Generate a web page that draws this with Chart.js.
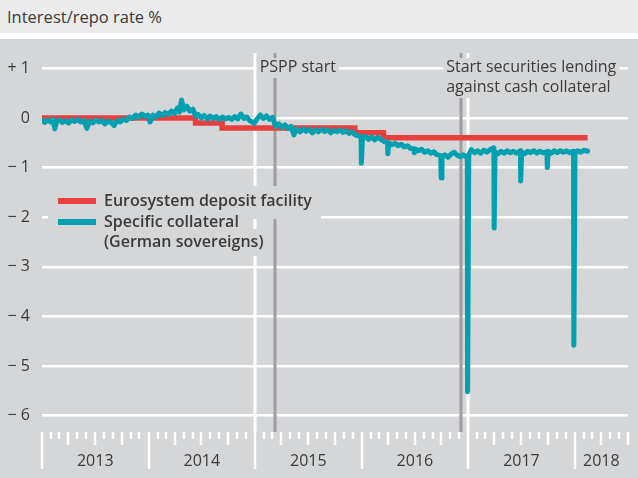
<!DOCTYPE html>
<html>
<head>
<meta charset="utf-8">
<script src="https://cdn.jsdelivr.net/npm/chart.js@4.4.1/dist/chart.umd.min.js"></script>
<style>
  html, body { margin: 0; padding: 0; background: #fff; }
  body { width: 638px; height: 478px; overflow: hidden; font-family: 'Open Sans', sans-serif; }
  .title { height: 33px; background: #ebebec; color: #3a3a3a; font-size: 16.5px; line-height: 33px; padding-left: 7px; }
  .gap { height: 6px; background: #fff; }
  .plot { height: 439px; background: #d5d6d8; }
  canvas { display: block; }
</style>
</head>
<body>
<div class="title">Interest/repo rate %</div>
<div class="gap"></div>
<div class="plot"><canvas id="repoChart" width="638" height="439"></canvas></div>

<script>
/* ============================================================
   Data
   ============================================================ */
const depositDates = ['2013-01-01', '2014-06-11', '2014-09-10', '2015-12-09', '2016-03-16', '2018-02-14'];
const depositRates = [0.00, -0.10, -0.20, -0.30, -0.40, -0.40];

const scDates = [
  '2013-01-02', '2013-01-11', '2013-01-21', '2013-01-31', '2013-02-08', '2013-02-14', '2013-02-20', '2013-03-01',
  '2013-03-12', '2013-03-22', '2013-04-02', '2013-04-12', '2013-04-23', '2013-05-03', '2013-05-14', '2013-05-24',
  '2013-06-04', '2013-06-12', '2013-06-24', '2013-07-04', '2013-07-15', '2013-07-25', '2013-08-05', '2013-08-15',
  '2013-08-26', '2013-09-05', '2013-09-16', '2013-09-26', '2013-10-07', '2013-10-17', '2013-10-28', '2013-11-07',
  '2013-11-18', '2013-11-28', '2013-12-09', '2013-12-19', '2013-12-30',
  '2014-01-06', '2014-01-16', '2014-01-27', '2014-02-06', '2014-02-17', '2014-02-27', '2014-03-10', '2014-03-20',
  '2014-03-31', '2014-04-10', '2014-04-17', '2014-04-24', '2014-05-02', '2014-05-12', '2014-05-22', '2014-06-02',
  '2014-06-11', '2014-06-20', '2014-07-01', '2014-07-11', '2014-07-22', '2014-07-31', '2014-08-11', '2014-08-21',
  '2014-09-01', '2014-09-11', '2014-09-22', '2014-10-02', '2014-10-13', '2014-10-23', '2014-11-03', '2014-11-13',
  '2014-11-24', '2014-12-04', '2014-12-15', '2014-12-29',
  '2015-01-08', '2015-01-19', '2015-01-29', '2015-02-09', '2015-02-19', '2015-03-02', '2015-03-12', '2015-03-23',
  '2015-04-02', '2015-04-13', '2015-04-23', '2015-05-04', '2015-05-14', '2015-05-22', '2015-06-04', '2015-06-15',
  '2015-06-25', '2015-07-06', '2015-07-16', '2015-07-27', '2015-08-06', '2015-08-17', '2015-08-27', '2015-09-07',
  '2015-09-17', '2015-09-28', '2015-10-08', '2015-10-19', '2015-10-29', '2015-11-09', '2015-11-19', '2015-11-30',
  '2015-12-10', '2015-12-21', '2015-12-30', '2015-12-31',
  '2016-01-04', '2016-01-14', '2016-01-25', '2016-02-04', '2016-02-15', '2016-02-25', '2016-03-07', '2016-03-17',
  '2016-03-30', '2016-03-31', '2016-04-04', '2016-04-14', '2016-04-25', '2016-05-05', '2016-05-16', '2016-05-26',
  '2016-06-06', '2016-06-16', '2016-06-29', '2016-06-30', '2016-07-04', '2016-07-14', '2016-07-25', '2016-08-04',
  '2016-08-15', '2016-08-25', '2016-09-05', '2016-09-15', '2016-09-29', '2016-09-30', '2016-10-03', '2016-10-13',
  '2016-10-24', '2016-11-03', '2016-11-14', '2016-11-24', '2016-12-05', '2016-12-15', '2016-12-29', '2016-12-30',
  '2017-01-03', '2017-01-12', '2017-01-23', '2017-02-02', '2017-02-13', '2017-02-23', '2017-03-06', '2017-03-16',
  '2017-03-30', '2017-03-31', '2017-04-03', '2017-04-13', '2017-04-24', '2017-05-04', '2017-05-15', '2017-05-25',
  '2017-06-05', '2017-06-15', '2017-06-29', '2017-06-30', '2017-07-03', '2017-07-13', '2017-07-24', '2017-08-03',
  '2017-08-14', '2017-08-24', '2017-09-04', '2017-09-14', '2017-09-28', '2017-09-29', '2017-10-02', '2017-10-12',
  '2017-10-23', '2017-11-02', '2017-11-13', '2017-11-23', '2017-12-04', '2017-12-14', '2017-12-28', '2017-12-29',
  '2018-01-02', '2018-01-11', '2018-01-22', '2018-02-01', '2018-02-14'
];
const scRates = [
  -0.05, -0.09, -0.04, -0.08, -0.03, -0.22, -0.07, -0.04,
  -0.09, -0.05, -0.10, -0.04, -0.07, -0.03, -0.08, -0.05,
  -0.21, -0.06, -0.10, -0.04, -0.08, -0.05, -0.12, -0.06,
  -0.09, -0.15, -0.05, -0.08, -0.02, -0.05, 0.02, -0.01,
  0.06, 0.01, 0.08, 0.03, 0.06,
  -0.08, 0.06, 0.02, 0.10, 0.05, 0.11, 0.07, 0.14,
  0.09, 0.20, 0.12, 0.36, 0.16, 0.24, 0.14, 0.18,
  0.04, 0.07, 0.00, 0.05, -0.02, 0.04, -0.01, 0.03,
  -0.03, 0.02, -0.02, 0.01, -0.03, 0.03, -0.02, 0.08,
  -0.01, 0.02, -0.06, -0.11,
  -0.02, 0.06, -0.01, 0.04, -0.03, 0.01, -0.17, -0.12,
  -0.19, -0.14, -0.21, -0.17, -0.34, -0.22, -0.28, -0.22,
  -0.27, -0.23, -0.30, -0.24, -0.28, -0.23, -0.27, -0.24,
  -0.30, -0.25, -0.28, -0.24, -0.29, -0.26, -0.31, -0.28,
  -0.34, -0.36, -0.38, -0.91,
  -0.42, -0.37, -0.43, -0.38, -0.44, -0.39, -0.43, -0.47,
  -0.50, -0.72, -0.50, -0.54, -0.51, -0.56, -0.53, -0.58,
  -0.56, -0.61, -0.62, -0.70, -0.63, -0.66, -0.63, -0.69,
  -0.66, -0.71, -0.68, -0.74, -0.76, -1.21, -0.78, -0.74,
  -0.79, -0.73, -0.69, -0.75, -0.78, -0.74, -0.80, -5.52,
  -0.74, -0.64, -0.70, -0.66, -0.71, -0.65, -0.69, -0.64,
  -0.60, -2.22, -0.68, -0.72, -0.67, -0.71, -0.66, -0.70,
  -0.67, -0.71, -0.66, -1.27, -0.68, -0.72, -0.67, -0.70,
  -0.66, -0.71, -0.67, -0.70, -0.68, -1.00, -0.67, -0.71,
  -0.66, -0.70, -0.66, -0.69, -0.66, -0.70, -0.67, -4.58,
  -0.70, -0.66, -0.69, -0.65, -0.67
];

const yTicks = [1, 0, -1, -2, -3, -4, -5, -6];
const yearLabels = ['2013', '2014', '2015', '2016', '2017', '2018'];
const guideYears = [2015, 2017];
const eventDates = ['2015-03-09', '2016-12-08'];
const eventLabels = [['PSPP start'], ['Start securities lending', 'against cash collateral']];
const legendLabels = [['Eurosystem deposit facility'], ['Specific collateral', '(German sovereigns)']];

const RED = '#e9403f';
const TEAL = '#00a0b1';
const BG = '#d5d6d8';
const TEXT = '#3a3a3a';
const FONT = "'Open Sans', sans-serif";

/* date string -> decimal year */
function toYear(s) {
  const [y, m, d] = s.split('-').map(Number);
  const t0 = Date.UTC(y, 0, 1), t1 = Date.UTC(y + 1, 0, 1);
  return y + (Date.UTC(y, m - 1, d) - t0) / (t1 - t0);
}

/* ============================================================
   Decorations: guides, event lines, labels, legend, time axis
   ============================================================ */
const decor = {
  id: 'decor',
  beforeDatasetsDraw(chart) {
    const { ctx, chartArea: a, scales: { x } } = chart;
    ctx.save();
    ctx.lineWidth = 3;
    ctx.strokeStyle = '#fff';
    guideYears.forEach(yr => {
      const px = Math.round(x.getPixelForValue(yr));
      ctx.beginPath(); ctx.moveTo(px, a.top); ctx.lineTo(px, a.bottom); ctx.stroke();
    });
    ctx.strokeStyle = '#9d9d9f';
    eventDates.forEach(d => {
      const px = Math.round(x.getPixelForValue(toYear(d)));
      ctx.beginPath(); ctx.moveTo(px, a.top); ctx.lineTo(px, a.bottom); ctx.stroke();
    });
    ctx.restore();
  },
  afterDatasetsDraw(chart) {
    const { ctx, chartArea: a, scales: { x } } = chart;
    ctx.save();
    ctx.textBaseline = 'middle';

    /* event labels */
    ctx.font = '16px ' + FONT;
    eventDates.forEach((d, i) => {
      const left = x.getPixelForValue(toYear(d)) - 15;
      const lines = eventLabels[i];
      const w = Math.max(...lines.map(t => ctx.measureText(t).width));
      ctx.fillStyle = BG;
      ctx.fillRect(left - 3, a.top + 5, w + 6, 20 * lines.length);
      ctx.fillStyle = TEXT;
      lines.forEach((t, j) => ctx.fillText(t, left, a.top + 14 + j * 20));
    });

    /* legend */
    ctx.font = '600 16px ' + FONT;
    const tx = 104, rows = [162, 183, 203.5];
    const w0 = ctx.measureText(legendLabels[0][0]).width;
    const w1 = ctx.measureText(legendLabels[1][0]).width;
    const w2 = ctx.measureText(legendLabels[1][1]).width;
    ctx.fillStyle = BG;
    ctx.fillRect(48, 172, tx + w1 + 9 - 48, 22);
    ctx.fillRect(48, 147, tx + w0 + 9 - 48, 33);
    ctx.fillRect(48, 190, tx + w2 + 9 - 48, 27);
    ctx.fillStyle = RED;
    ctx.fillRect(58, rows[0] - 3, 38, 6);
    ctx.fillStyle = TEAL;
    ctx.fillRect(58, rows[1] - 3, 38, 6);
    ctx.fillStyle = TEXT;
    ctx.fillText(legendLabels[0][0], tx, rows[0]);
    ctx.fillText(legendLabels[1][0], tx, rows[1]);
    ctx.fillText(legendLabels[1][1], tx, rows[2]);

    /* time axis: month / quarter / year ticks */
    ctx.strokeStyle = '#fff';
    ctx.lineWidth = 2.5;
    yearLabels.forEach(lbl => {
      const yr = Number(lbl);
      for (let m = 0; m < 12; m++) {
        const px = Math.round(x.getPixelForValue(toYear(`${yr}-${m + 1}-01`)));
        if (px > a.right) break;
        const len = m === 0 ? 37 : (m % 3 === 0 ? 13 : 7);
        ctx.beginPath(); ctx.moveTo(px, a.bottom); ctx.lineTo(px, a.bottom + len); ctx.stroke();
      }
    });
    ctx.font = '16px ' + FONT;
    ctx.fillStyle = TEXT;
    ctx.textAlign = 'center';
    yearLabels.forEach(lbl => {
      const yr = Number(lbl);
      const x0 = x.getPixelForValue(yr);
      const x1 = Math.min(x.getPixelForValue(yr + 1), a.right);
      ctx.fillText(lbl, (x0 + x1) / 2, a.bottom + 29);
    });
    ctx.restore();
  }
};

/* ============================================================
   Chart
   ============================================================ */
new Chart(document.getElementById('repoChart'), {
  type: 'line',
  data: {
    datasets: [{
      label: 'Specific collateral (German sovereigns)',
      data: scDates.map((d, i) => ({ x: toYear(d), y: scRates[i] })),
      borderColor: TEAL,
      borderWidth: 5,
      borderJoinStyle: 'round',
      borderCapStyle: 'round',
      pointRadius: 0,
      tension: 0,
      order: 1,
    }, {
      label: 'Eurosystem deposit facility',
      data: depositDates.map((d, i) => ({ x: toYear(d), y: depositRates[i] })),
      borderColor: RED,
      borderWidth: 5.5,
      stepped: 'before',
      pointRadius: 0,
      order: 2,
    }]
  },
  options: {
    responsive: false,
    animation: false,
    layout: { padding: { top: 14, bottom: 46, right: 10, left: 0 } },
    plugins: { legend: { display: false }, tooltip: { enabled: false } },
    scales: {
      x: { type: 'linear', min: 2013, max: 2018.5, display: false },
      y: {
        min: -6.33, max: 1.31,
        afterBuildTicks: s => { s.ticks = yTicks.map(v => ({ value: v })); },
        afterFit: s => { s.width = 42; s.paddingTop = 0; s.paddingBottom = 0; },
        grid: { color: '#fff', lineWidth: 2.5, drawTicks: false },
        border: { display: false },
        ticks: {
          padding: 12, color: TEXT, font: { family: FONT, size: 16 },
          callback: v => v > 0 ? '+ ' + v : (v < 0 ? '\u2212 ' + Math.abs(v) : '0')
        }
      }
    }
  },
  plugins: [decor]
});
</script>
</body>
</html>
